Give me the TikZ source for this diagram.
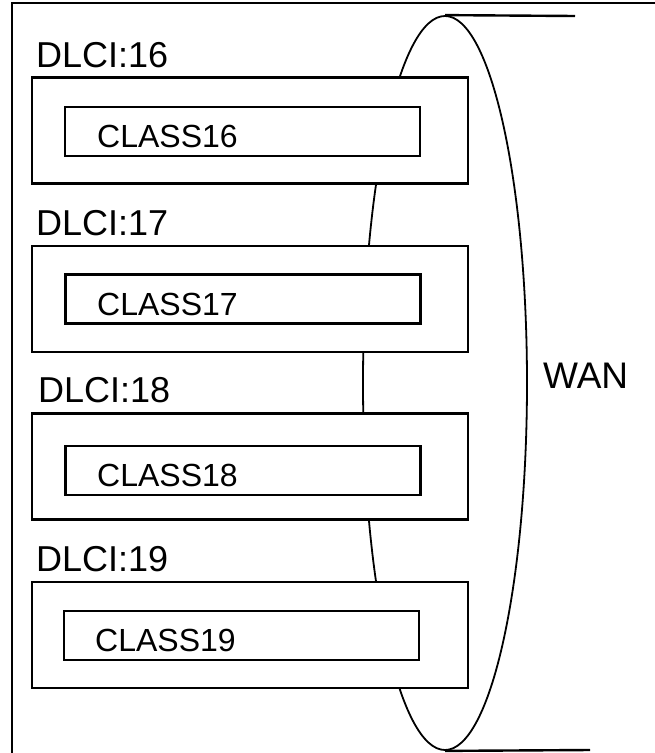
\documentclass[tikz,border=0pt]{standalone}
\usepackage{fontspec}
\setmainfont{Liberation Sans}
\usetikzlibrary{shapes.geometric}
\begin{document}
\begin{tikzpicture}[x=1pt,y=-1pt,
  outerbox/.style={draw,line width=2.4pt,fill=white,minimum width=436pt,minimum height=106pt,inner sep=0pt},
  innerbox/.style={draw,line width=2.4pt,fill=white,minimum width=355pt,minimum height=49pt,inner sep=0pt},
  dlci/.style={anchor=base west,inner sep=0pt,font=\fontsize{36}{40}\selectfont},
  cls/.style={anchor=base west,inner sep=0pt,font=\fontsize{32}{36}\selectfont},
  wan/.style={ellipse,draw,line width=1.8pt,minimum width=164pt,minimum height=734pt,inner sep=0pt},
  lead/.style={line width=2.4pt}]
\useasboundingbox (0,0) rectangle (655,753);
% frame
\coordinate (fTR) at (655,3);
\coordinate (fTL) at (12,3);
\coordinate (fBL) at (12,753);
\draw[line width=2.8pt] (fTR) -- (fTL) -- (fBL);
% WAN ellipse
\node[wan] (ell) at (445,383) {};
\coordinate (topEnd) at (575,16);
\coordinate (botEnd) at (590,750);
\draw[lead] (ell.north) -- (topEnd);
\draw[lead] (ell.south) -- (botEnd);
\node[anchor=base west,inner sep=0pt,font=\fontsize{37}{40}\selectfont] (wanlbl) at (543,388) {WAN};
% boxes
\node[outerbox] (o16) at (250,130.5) {};
\node[innerbox] (i16) at (242.5,131.5) {};
\node[dlci] (d16) at (36,67) {DLCI:16};
\node[cls] (c16) at (97,147) {CLASS16};

\node[outerbox] (o17) at (250,299) {};
\node[innerbox] (i17) at (243,299) {};
\node[dlci] (d17) at (36,235) {DLCI:17};
\node[cls] (c17) at (97,315) {CLASS17};

\node[outerbox] (o18) at (250,466.5) {};
\node[innerbox] (i18) at (243,470.5) {};
\node[dlci] (d18) at (38,402) {DLCI:18};
\node[cls] (c18) at (97,486) {CLASS18};

\node[outerbox] (o19) at (250,635) {};
\node[innerbox] (i19) at (241.5,635.5) {};
\node[dlci] (d19) at (36,571) {DLCI:19};
\node[cls] (c19) at (95,651) {CLASS19};
\end{tikzpicture}
\end{document}
